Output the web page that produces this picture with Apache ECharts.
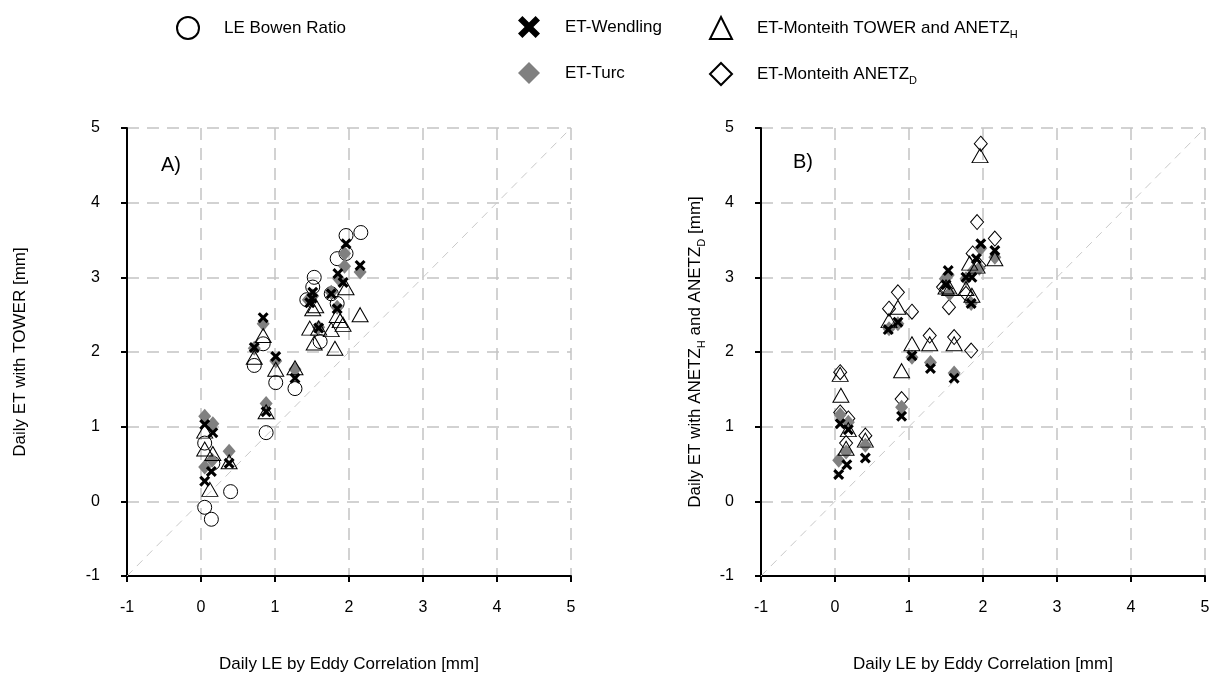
<!DOCTYPE html>
<html lang="en">
<head>
  <meta charset="UTF-8">
  <title>Daily ET comparison</title>
  <script type="text/javascript" src="https://cdn.jsdelivr.net/npm/echarts@6/dist/echarts.min.js"></script>
  <style>
    html, body { margin: 0; padding: 0; background: #fff; }
    #chart { width: 1213px; height: 680px; }
  </style>
</head>
<body>
  <div id="chart"></div>
  <script type="text/javascript">
    // panel A: TOWER data, [LE eddy, ET]
    var bowenA = [[0.05,-0.08],[0.14,-0.24],[0.05,0.78],[0.16,0.51],[0.40,0.13],[0.88,0.92],[0.72,1.82],[0.84,2.11],
      [1.01,1.59],[1.27,1.51],[1.43,2.70],[1.51,2.87],[1.53,3.00],[1.61,2.14],[1.76,2.78],[1.84,2.65],[1.84,3.25],
      [1.96,3.32],[1.96,3.56],[2.16,3.60]];
    var wendlingA = [[0.05,0.27],[0.14,0.40],[0.05,1.03],[0.16,0.92],[0.38,0.51],[0.88,1.20],[0.72,2.06],[0.84,2.46],
      [1.01,1.94],[1.27,1.65],[1.47,2.66],[1.51,2.80],[1.59,2.32],[1.76,2.78],[1.84,2.58],[1.85,3.05],[1.92,2.93],
      [1.96,3.45],[2.15,3.16],[1.50,2.72]];
    var turcA = [[0.05,1.14],[0.16,1.04],[0.05,0.46],[0.15,0.55],[0.38,0.67],[0.88,1.31],[0.72,2.05],[0.84,2.38],
      [1.01,1.88],[1.27,1.77],[1.45,2.70],[1.51,2.75],[1.59,2.33],[1.76,2.80],[1.86,2.98],[1.94,3.32],[2.15,3.07],
      [1.84,2.60],[1.94,3.15]];
    var monteithA = [[0.05,0.94],[0.05,0.70],[0.16,0.64],[0.12,0.16],[0.38,0.53],[0.88,1.20],[0.72,1.93],[0.84,2.22],
      [1.01,1.77],[1.27,1.79],[1.47,2.32],[1.51,2.58],[1.53,2.12],[1.59,2.32],[1.76,2.30],[1.81,2.05],[1.84,2.49],
      [1.88,2.42],[1.92,2.37],[1.96,2.86],[2.15,2.50],[1.55,2.62]];

    // panel B: ANETZ data
    var wendlingB = [[0.05,0.36],[0.16,0.49],[0.07,1.04],[0.18,0.96],[0.41,0.58],[0.90,1.14],[0.72,2.30],[0.85,2.40],
      [1.04,1.95],[1.29,1.78],[1.61,1.65],[1.53,3.09],[1.50,2.90],[1.77,3.00],[1.84,2.65],[1.91,3.25],[1.97,3.45],
      [2.16,3.36],[1.85,3.00]];
    var turcB = [[0.05,0.55],[0.15,0.66],[0.07,1.16],[0.18,1.06],[0.41,0.75],[0.90,1.26],[0.73,2.31],[0.85,2.38],
      [1.04,1.93],[1.29,1.86],[1.61,1.72],[1.49,2.98],[1.53,3.03],[1.55,2.78],[1.77,2.98],[1.84,2.65],[1.87,3.09],
      [1.95,3.12],[1.97,3.39],[2.16,3.27]];
    var monteithHB = [[0.08,1.42],[0.07,1.70],[0.18,0.96],[0.15,0.71],[0.41,0.82],[0.90,1.75],[0.73,2.42],[0.85,2.60],
      [1.04,2.11],[1.28,2.11],[1.61,2.11],[1.50,2.87],[1.55,2.85],[1.77,2.85],[1.85,2.76],[1.82,3.19],[1.96,4.63],
      [2.16,3.25],[1.92,3.15]];
    var monteithDB = [[0.07,1.73],[0.07,1.19],[0.18,1.11],[0.15,0.78],[0.41,0.88],[0.90,1.37],[0.73,2.58],[0.85,2.80],
      [1.04,2.54],[1.28,2.22],[1.61,2.20],[1.46,2.87],[1.54,2.60],[1.50,2.85],[1.77,2.78],[1.84,2.02],[1.86,3.32],
      [1.92,3.74],[1.95,3.16],[1.97,4.79],[2.16,3.52]];

    var oneToOne = [[-1,-1],[5,5]];

    var FONT = 'Liberation Sans';
    var XMARK = 'path://M0,2 L2,0 L5,3 L8,0 L10,2 L7,5 L10,8 L8,10 L5,7 L2,10 L0,8 L3,5 Z';
    var hollow = { color: 'rgba(255,255,255,0)', borderColor: '#000', borderWidth: 1, opacity: 1 };
    var grey = { color: '#808080', opacity: 1 };
    var black = { color: '#000', opacity: 1 };

    var chart = echarts.init(document.getElementById('chart'), null, { width: 1213, height: 680 });

    function xAx(i) {
      return {
        gridIndex: i, type: 'value', min: -1, max: 5, interval: 1,
        name: 'Daily LE by Eddy Correlation [mm]', nameLocation: 'middle', nameGap: 80,
        nameTextStyle: { color: '#000', fontSize: 17, fontFamily: FONT },
        axisLine: { show: true, onZero: false, lineStyle: { color: '#000', width: 2 } },
        axisTick: { show: true, length: 6, lineStyle: { color: '#000', width: 2 } },
        axisLabel: { color: '#000', fontSize: 16, fontFamily: FONT, margin: 24 },
        splitLine: { show: true, lineStyle: { type: [12, 8], color: '#c4c4c4', width: 1.5 } }
      };
    }
    function yAx(i, name, gap) {
      return {
        gridIndex: i, type: 'value', min: -1, max: 5, interval: 1,
        name: name, nameLocation: 'middle', nameGap: gap, nameRotate: 90,
        nameTextStyle: { color: '#000', fontSize: 17, fontFamily: FONT,
          rich: { sub: { fontSize: 11, fontFamily: FONT, color: '#000', padding: [12, 0, 0, 0] } } },
        axisLine: { show: true, onZero: false, lineStyle: { color: '#000', width: 2 } },
        axisTick: { show: true, length: 6, lineStyle: { color: '#000', width: 2 } },
        axisLabel: { color: '#000', fontSize: 16, fontFamily: FONT, margin: 27 },
        splitLine: { show: true, lineStyle: { type: [12, 8], color: '#c4c4c4', width: 1.5 } }
      };
    }

    function diag(i) {
      return { type: 'line', xAxisIndex: i, yAxisIndex: i, data: oneToOne, symbol: 'none', silent: true,
        lineStyle: { color: '#c8c8c8', width: 1, type: [8, 6] }, z: 1 };
    }

    var legendBase = {
      orient: 'horizontal', itemWidth: 22, itemHeight: 22, selectedMode: false,
      textStyle: { color: '#000', fontSize: 17, fontFamily: FONT, padding: [0, 0, 0, 20],
        rich: { sub: { fontSize: 11, fontFamily: FONT, color: '#000', padding: [14, 0, 0, 0] } } },
      formatter: function (n) {
        return n.replace('ANETZ_H', 'ANETZ{sub|H}').replace('ANETZ_D', 'ANETZ{sub|D}');
      }
    };
    function leg(name, left, top) {
      return Object.assign({}, legendBase, { data: [name], left: left, top: top });
    }

    var option = {
      animation: false,
      backgroundColor: '#fff',
      title: [
        { text: 'A)', left: 156, top: 150, textStyle: { fontSize: 20, fontWeight: 'normal', color: '#000', fontFamily: FONT } },
        { text: 'B)', left: 788, top: 147, textStyle: { fontSize: 20, fontWeight: 'normal', color: '#000', fontFamily: FONT } }
      ],
      legend: [
        leg('LE Bowen Ratio', 171, 11),
        leg('ET-Wendling', 513, 11),
        leg('ET-Monteith TOWER and ANETZ_H', 704, 11),
        leg('ET-Turc', 513, 57),
        leg('ET-Monteith ANETZ_D', 704, 57)
      ],
      grid: [
        { left: 127, top: 128, width: 444, height: 448 },
        { left: 761, top: 128, width: 444, height: 448 }
      ],
      xAxis: [xAx(0), xAx(1)],
      yAxis: [
        yAx(0, 'Daily ET with TOWER [mm]', 98),
        yAx(1, 'Daily ET with ANETZ{sub|H} and ANETZ{sub|D} [mm]', 54)
      ],
      series: [
        diag(0), diag(1),
        { name: 'LE Bowen Ratio', type: 'scatter', xAxisIndex: 0, yAxisIndex: 0, data: bowenA,
          symbol: 'circle', symbolSize: 14, itemStyle: hollow },
        { name: 'ET-Turc', type: 'scatter', xAxisIndex: 0, yAxisIndex: 0, data: turcA,
          symbol: 'diamond', symbolSize: [13, 15], itemStyle: grey },
        { name: 'ET-Monteith TOWER and ANETZ_H', type: 'scatter', xAxisIndex: 0, yAxisIndex: 0, data: monteithA,
          symbol: 'triangle', symbolSize: [16, 14], itemStyle: hollow },
        { name: 'ET-Wendling', type: 'scatter', xAxisIndex: 0, yAxisIndex: 0, data: wendlingA,
          symbol: XMARK, symbolSize: 11, itemStyle: black },

        { name: 'ET-Monteith ANETZ_D', type: 'scatter', xAxisIndex: 1, yAxisIndex: 1, data: monteithDB,
          symbol: 'diamond', symbolSize: [13, 15], itemStyle: hollow },
        { name: 'ET-Turc', type: 'scatter', xAxisIndex: 1, yAxisIndex: 1, data: turcB,
          symbol: 'diamond', symbolSize: [13, 15], itemStyle: grey },
        { name: 'ET-Monteith TOWER and ANETZ_H', type: 'scatter', xAxisIndex: 1, yAxisIndex: 1, data: monteithHB,
          symbol: 'triangle', symbolSize: [16, 14], itemStyle: hollow },
        { name: 'ET-Wendling', type: 'scatter', xAxisIndex: 1, yAxisIndex: 1, data: wendlingB,
          symbol: XMARK, symbolSize: 11, itemStyle: black }
      ]
    };
    chart.setOption(option);
  </script>
</body>
</html>
